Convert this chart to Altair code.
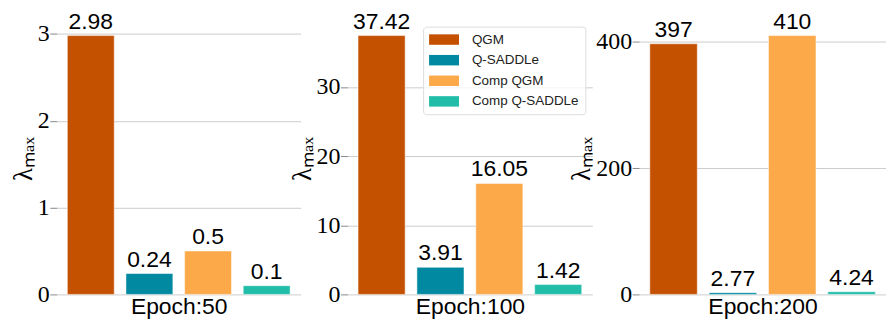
import altair as alt
import pandas as pd

methods = ["QGM", "Q-SADDLe", "Comp QGM", "Comp Q-SADDLe"]
colors = ["#c45100", "#0089a0", "#fca94a", "#22bda8"]
epochs = ["Epoch:50", "Epoch:100", "Epoch:200"]
vals_50 = [2.98, 0.24, 0.5, 0.1]
vals_100 = [37.42, 3.91, 16.05, 1.42]
vals_200 = [397, 2.77, 410, 4.24]
ticks_50 = [0, 1, 2, 3]
ticks_100 = [0, 10, 20, 30]
ticks_200 = [0, 200, 400]

SANS = "Liberation Sans"
SERIF = "Liberation Serif"


def panel(vals, title, ticks, width):
    df = pd.DataFrame({"method": methods, "value": vals,
                       "label": [str(v) for v in vals]})
    ymax = max(vals) * 1.05
    base = alt.Chart(df).encode(
        x=alt.X("method:N", sort=methods,
                scale=alt.Scale(paddingInner=0.2, paddingOuter=0.18),
                axis=alt.Axis(title=title, labels=False, ticks=False, domain=False,
                              titlePadding=1, titleFont=SANS, titleFontSize=23,
                              titleFontWeight="normal", titleColor="#000")),
        y=alt.Y("value:Q", scale=alt.Scale(domain=[0, ymax], nice=False, zero=True),
                axis=alt.Axis(values=ticks, title="λₘₐₓ", format="d",
                              titleFont=SERIF, titleFontSize=27, titleFontWeight="normal",
                              titleColor="#000", titlePadding=0,
                              labelFont=SERIF, labelFontSize=24, labelColor="#000",
                              labelPadding=0.5, tickSize=7, tickColor="#888",
                              domain=False, grid=True, gridColor="#cccccc")),
    )
    bars = base.mark_bar(stroke="white", strokeWidth=0.5).encode(
        color=alt.Color("method:N", sort=methods,
                        scale=alt.Scale(domain=methods, range=colors),
                        legend=alt.Legend(title=None, orient="none", legendX=368, legendY=4,
                                          symbolType="M-1,-0.75H3.29V0.75H-1Z", symbolSize=196,
                                          symbolStrokeWidth=0, labelFont=SANS,
                                          labelFontSize=13.5, labelColor="#222",
                                          labelOffset=29, rowPadding=6.7,
                                          padding=6, fillColor="rgba(255,255,255,0.8)",
                                          strokeColor="#dddddd", cornerRadius=3))
    )
    text = base.mark_text(baseline="bottom", dy=-2, font=SANS, fontSize=23,
                          color="#000").encode(text="label:N")
    return alt.layer(bars, text).properties(width=width, height=273)


chart = alt.hconcat(
    panel(vals_50, epochs[0], ticks_50, 245),
    panel(vals_100, epochs[1], ticks_100, 246),
    panel(vals_200, epochs[2], ticks_200, 248),
    spacing=47, bounds="flush",
).resolve_scale(color="shared").properties(
    padding={"left": 1, "top": 2, "right": 0, "bottom": 0}
).configure_view(stroke=None)

chart.save("out.html", embed_options={"renderer": "svg", "actions": False})
